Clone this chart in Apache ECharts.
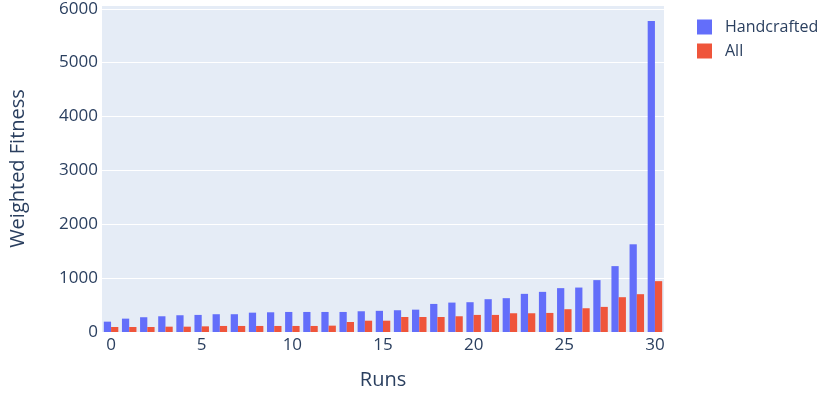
<!DOCTYPE html>
<html>
<head>
<meta charset="utf-8">
<script src="https://cdn.jsdelivr.net/npm/echarts@6/dist/echarts.min.js"></script>
<style>
  html, body { margin: 0; padding: 0; background: #fff; }
  #chart { width: 827px; height: 396px; }
</style>
</head>
<body>
<div id="chart"></div>
<script>
// runs 0..30
const runs = []
for (let i = 0; i <= 30; i++) runs.push(String(i))

const handcrafted = [192, 248, 274, 292, 311, 317, 330, 330, 359, 366,
  372, 372, 372, 372, 385, 393, 404, 415, 521, 546,
  553, 609, 628, 708, 745, 814, 825, 963, 1223, 1628, 5773]

const allFeatures = [93, 93, 93, 99, 99, 105, 112, 112, 112, 112,
  112, 112, 118, 186, 210, 210, 279, 279, 279, 292,
  317, 317, 348, 348, 354, 423, 441, 466, 646, 702, 944]

const textColor = '#2a3f5f'
const font = 'Open Sans'

const chart = echarts.init(document.getElementById('chart'))
chart.setOption({
  animation: false,
  textStyle: { fontFamily: font },
  grid: {
    left: 102,
    right: 163,
    top: 5,
    bottom: 64,
    show: true,
    borderWidth: 0,
    backgroundColor: '#E5ECF6'
  },
  legend: {
    orient: 'vertical',
    left: 692,
    top: 14,
    itemWidth: 15,
    itemHeight: 15,
    itemGap: 8,
    icon: 'rect',
    data: ['Handcrafted', 'All'],
    textStyle: {
      color: textColor,
      fontSize: 16,
      fontFamily: font,
      padding: [0, 0, 0, 8]
    }
  },
  xAxis: {
    type: 'category',
    data: runs,
    name: 'Runs',
    nameLocation: 'middle',
    nameGap: 38,
    nameTextStyle: { color: textColor, fontSize: 20, fontFamily: font },
    axisLine: { show: false },
    axisTick: { show: false },
    axisLabel: {
      interval: 4,
      color: textColor,
      fontSize: 17,
      margin: 5
    },
    splitLine: { show: false }
  },
  yAxis: {
    type: 'value',
    min: 0,
    max: 6070,
    interval: 1000,
    name: 'Weighted Fitness',
    nameLocation: 'middle',
    nameGap: 74,
    nameTextStyle: { color: textColor, fontSize: 20, fontFamily: font },
    axisLine: { show: false },
    axisTick: { show: false },
    axisLabel: {
      color: textColor,
      fontSize: 17,
      margin: 4,
      showMaxLabel: false,
      formatter: v => String(v)
    },
    splitLine: { show: true, lineStyle: { color: '#ffffff', width: 1 } }
  },
  series: [
    {
      name: 'Handcrafted',
      type: 'bar',
      data: handcrafted,
      barGap: '0%',
      barCategoryGap: '20%',
      itemStyle: { color: '#636efa' }
    },
    {
      name: 'All',
      type: 'bar',
      data: allFeatures,
      itemStyle: { color: '#EF553B' }
    }
  ]
})
</script>
</body>
</html>
